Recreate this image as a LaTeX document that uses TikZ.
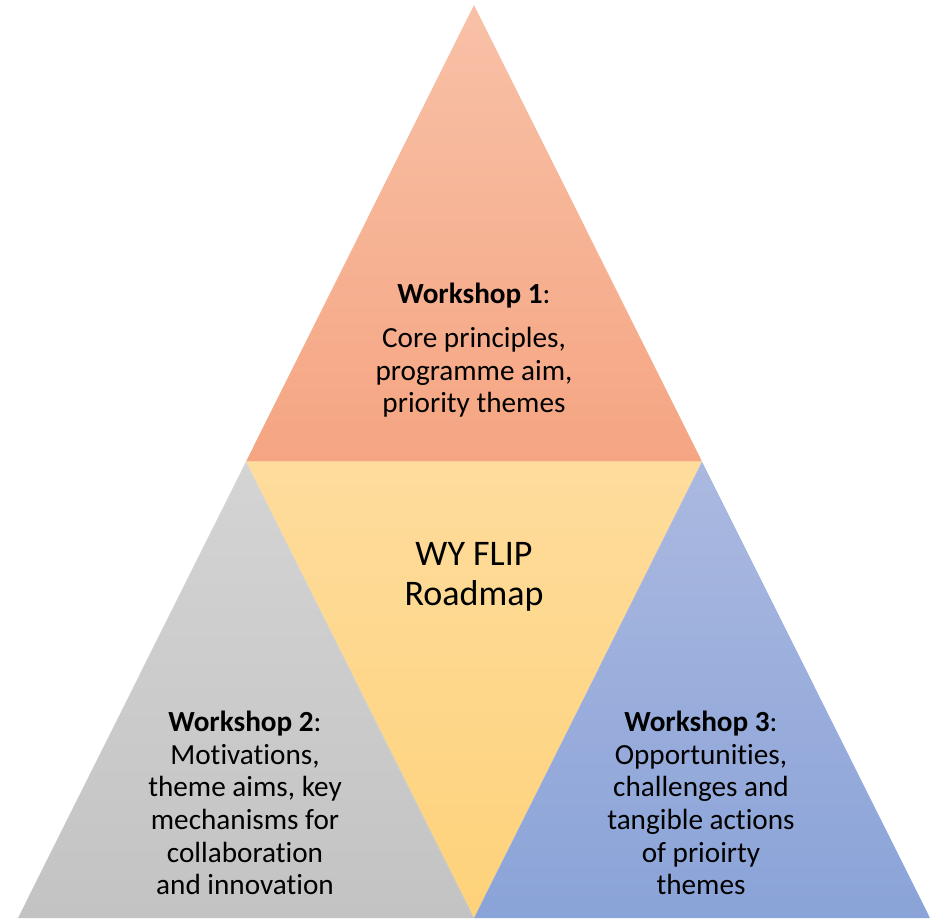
\documentclass[tikz,border=0pt]{standalone}
\usepackage{fontspec}
\setmainfont{Carlito}[Ligatures=NoCommon]
\usepackage{xcolor}
\usepackage{tikz}

\definecolor{topA}{HTML}{F8C1A7}
\definecolor{topB}{HTML}{F5A582}
\definecolor{midA}{HTML}{FEDC9C}
\definecolor{midB}{HTML}{FED27A}
\definecolor{greyA}{HTML}{D4D4D4}
\definecolor{greyB}{HTML}{C3C3C3}
\definecolor{blueA}{HTML}{ABB9E0}
\definecolor{blueB}{HTML}{8AA3D8}

\tikzset{
  label text/.style={align=center, text=black, font=\fontsize{14.6}{16.3}\selectfont},
  title text/.style={align=center, text=black, font=\fontsize{18}{20}\selectfont}
}

\begin{document}
\begin{tikzpicture}[x=0.5pt, y=-0.5pt]
 \useasboundingbox (0,0) rectangle (933,918);
 % corners of the big triangle and the side midpoints
 \coordinate (apex) at (474,5);
 \coordinate (left) at (18,918);
 \coordinate (right) at (930,918);
 \coordinate (midleft) at (246,461.5);
 \coordinate (midright) at (702,461.5);
 \coordinate (midbase) at (474,918);
 % the four triangles
 \shade [top color=topA, bottom color=topB] (apex) -- (midleft) -- (midright) -- cycle;
 \shade [top color=midA, bottom color=midB] (midleft) -- (midright) -- (midbase) -- cycle;
 \shade [top color=greyA, bottom color=greyB] (midleft) -- (midbase) -- (left) -- cycle;
 \shade [top color=blueA, bottom color=blueB] (midright) -- (right) -- (midbase) -- cycle;
 % texts
 \node [label text] (ws1) at (474,350) {\textbf{Workshop 1}:\\[6pt]Core principles,\\programme aim,\\priority themes};
 \node [title text] (roadmap) at (474,577) {WY FLIP\\Roadmap};
 \node [label text] (ws2) at (245,803) {\textbf{Workshop 2}:\\Motivations,\\theme aims, key\\mechanisms for\\collaboration\\and innovation};
 \node [label text] (ws3) at (701,803) {\textbf{Workshop 3}:\\Opportunities,\\challenges and\\tangible actions\\of prioirty\\themes};
\end{tikzpicture}
\end{document}
